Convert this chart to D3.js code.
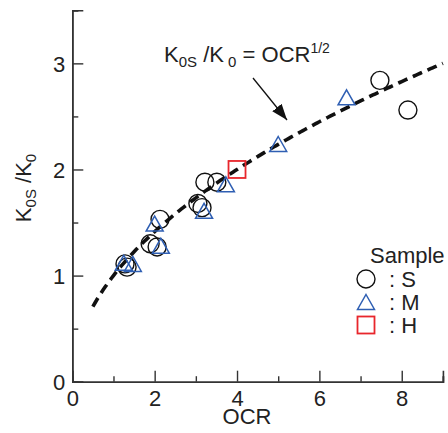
<!DOCTYPE html>
<html>
<head>
<meta charset="utf-8">
<script src="https://cdn.jsdelivr.net/npm/d3@7"></script>
<style>
  body { margin: 0; background: #fff; }
  svg { font-family: "Liberation Sans", Arial, sans-serif; }
</style>
</head>
<body>
<svg id="chart"></svg>
<script>
// sample S (circles)
const sX = [1.28, 1.33, 1.89, 2.06, 2.13, 3.05, 3.15, 3.22, 3.51, 7.47, 8.15];
const sY = [1.11, 1.08, 1.30, 1.27, 1.53, 1.68, 1.64, 1.88, 1.88, 2.84, 2.56];
// sample M (triangles)
const mX = [1.25, 1.47, 2.00, 2.15, 3.20, 3.73, 5.00, 6.66];
const mY = [1.12, 1.11, 1.49, 1.28, 1.61, 1.86, 2.24, 2.68];
// sample H (square)
const hX = [4.0];
const hY = [2.0];

const xMajor = [0, 2, 4, 6, 8];
const xMinor = [1, 3, 5, 7, 9];
const yMajor = [0, 1, 2, 3];
const yMinor = [0.5, 1.5, 2.5, 3.5];
const legendNames = ["S", "M", "H"];

const width = 448, height = 433;
const margin = { top: 10.3, right: 5, bottom: 51.3, left: 72.3 };
const fs = '22px';

const svg = d3.select('#chart')
    .attr('width', width)
    .attr('height', height);

const x = d3.scaleLinear().domain([0, 9]).range([margin.left, margin.left + 41.18 * 9]);
const y = d3.scaleLinear().domain([0, 3.5]).range([height - margin.bottom, margin.top]);

const axisColor = '#333';

// axes
const xAx = svg.append('g').attr('transform', `translate(0,${y(0)})`)
    .call(d3.axisBottom(x).tickValues(xMajor).tickSize(-11).tickPadding(8).tickFormat(d3.format('d')));
const xAxMinor = svg.append('g').attr('transform', `translate(0,${y(0)})`)
    .call(d3.axisBottom(x).tickValues(xMinor).tickSize(-5.5).tickFormat(''));
const yAx = svg.append('g').attr('transform', `translate(${x(0)},0)`)
    .call(d3.axisLeft(y).tickValues(yMajor).tickSize(-11).tickPadding(7).tickFormat(d3.format('d')));
const yAxMinor = svg.append('g').attr('transform', `translate(${x(0)},0)`)
    .call(d3.axisLeft(y).tickValues(yMinor).tickSize(-6).tickFormat(''));

[xAx, xAxMinor, yAx, yAxMinor].forEach(g => {
    g.select('.domain').attr('stroke', axisColor).attr('stroke-width', 1.6);
    g.selectAll('.tick line').attr('stroke', axisColor).attr('stroke-width', 1.4);
    g.selectAll('.tick text').attr('fill', '#222').style('font-size', fs);
});
xAx.selectAll('.tick text').attr('dy', '0.72em');
yAx.selectAll('.tick text').attr('dy', '0.36em');

// axis titles
svg.append('text')
    .attr('x', 247).attr('y', 424)
    .attr('text-anchor', 'middle')
    .attr('fill', '#222')
    .style('font-size', fs)
    .text('OCR');

const yTitle = svg.append('text')
    .attr('transform', `translate(31,188) rotate(-90)`)
    .attr('text-anchor', 'middle')
    .attr('fill', '#222')
    .style('font-size', fs);
yTitle.append('tspan').text('K');
yTitle.append('tspan').attr('dy', 5).style('font-size', '15px').text('0S');
yTitle.append('tspan').attr('dy', -5).text(' /K');
yTitle.append('tspan').attr('dy', 5).style('font-size', '15px').text('0');

// curve K0S/K0 = OCR^0.5
const curveX = d3.range(0.5, 9.001, 0.05);
const line = d3.line().x(d => x(d)).y(d => y(Math.sqrt(d)));
svg.append('path')
    .datum(curveX)
    .attr('d', line)
    .attr('fill', 'none')
    .attr('stroke', '#111')
    .attr('stroke-width', 3.6)
    .attr('stroke-dasharray', '10,6');

// markers
const blue = '#2f5fb3', red = '#e8262c';
const triPath = 'M0,-7.5L8.5,7.5L-8.5,7.5Z';

svg.append('g').selectAll('circle')
    .data(sX.map((d, i) => [d, sY[i]]))
    .join('circle')
    .attr('cx', d => x(d[0])).attr('cy', d => y(d[1]))
    .attr('r', 9)
    .attr('fill', 'none').attr('stroke', '#111').attr('stroke-width', 1.4);

svg.append('g').selectAll('path')
    .data(mX.map((d, i) => [d, mY[i]]))
    .join('path')
    .attr('transform', d => `translate(${x(d[0])},${y(d[1])})`)
    .attr('d', triPath)
    .attr('fill', 'none').attr('stroke', blue).attr('stroke-width', 1.5);

svg.append('g').selectAll('rect')
    .data(hX.map((d, i) => [d, hY[i]]))
    .join('rect')
    .attr('x', d => x(d[0]) - 8.5).attr('y', d => y(d[1]) - 8.5)
    .attr('width', 17).attr('height', 17)
    .attr('fill', 'none').attr('stroke', red).attr('stroke-width', 1.8);

// annotation
const ann = svg.append('text')
    .attr('x', 164).attr('y', 62)
    .attr('fill', '#222')
    .style('font-size', fs);
ann.append('tspan').text('K');
ann.append('tspan').attr('dy', 5).style('font-size', '15px').text('0S');
ann.append('tspan').attr('dy', -5).text(' /K');
ann.append('tspan').attr('dy', 5).style('font-size', '15px').text(' 0');
ann.append('tspan').attr('dy', -5).text(' = OCR');
ann.append('tspan').attr('dy', -9).style('font-size', '14px').text('1/2');

svg.append('defs').append('marker')
    .attr('id', 'arrow')
    .attr('viewBox', '0 0 16 12')
    .attr('refX', 16).attr('refY', 6)
    .attr('markerWidth', 16).attr('markerHeight', 12)
    .attr('markerUnits', 'userSpaceOnUse')
    .attr('orient', 'auto')
    .append('path')
    .attr('d', 'M0,0L16,6L0,12Z')
    .attr('fill', '#111');

svg.append('line')
    .attr('x1', 253).attr('y1', 78)
    .attr('x2', 287).attr('y2', 120)
    .attr('stroke', '#111').attr('stroke-width', 1.3)
    .attr('marker-end', 'url(#arrow)');

// legend
const leg = svg.append('g');
leg.append('text')
    .attr('x', 370).attr('y', 263)
    .attr('fill', '#222')
    .style('font-size', fs)
    .text('Sample');

const legY = d3.scalePoint().domain(legendNames).range([279, 325]);
const lx = 366;
leg.append('circle')
    .attr('cx', lx).attr('cy', legY('S')).attr('r', 9)
    .attr('fill', 'none').attr('stroke', '#111').attr('stroke-width', 1.4);
leg.append('path')
    .attr('transform', `translate(${lx},${legY('M')})`)
    .attr('d', triPath)
    .attr('fill', 'none').attr('stroke', blue).attr('stroke-width', 1.5);
leg.append('rect')
    .attr('x', lx - 8.5).attr('y', legY('H') - 8.5)
    .attr('width', 17).attr('height', 17)
    .attr('fill', 'none').attr('stroke', red).attr('stroke-width', 1.8);

leg.selectAll('text.lab')
    .data(legendNames)
    .join('text')
    .attr('class', 'lab')
    .attr('x', 389).attr('y', d => legY(d) + 8)
    .attr('fill', '#222')
    .style('font-size', fs)
    .text(d => ': ' + d);
</script>
</body>
</html>
